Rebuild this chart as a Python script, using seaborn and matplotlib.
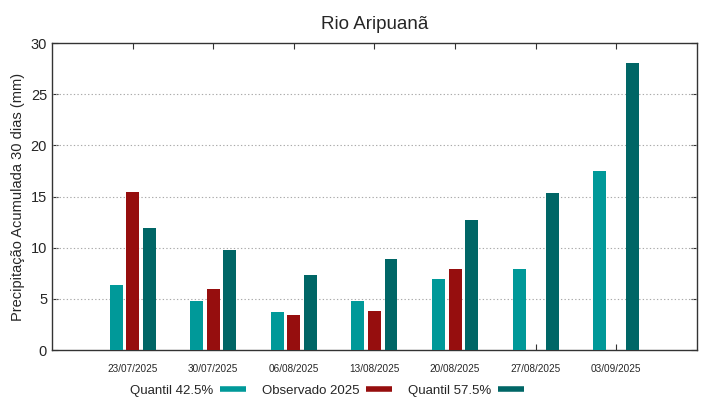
import pandas as pd
import numpy as np

import matplotlib
matplotlib.use("Agg")
import matplotlib.pyplot as plt
from matplotlib.lines import Line2D
import seaborn as sns

# valores
datas = ["23/07/2025", "30/07/2025", "06/08/2025", "13/08/2025",
         "20/08/2025", "27/08/2025", "03/09/2025"]
quantil_425 = [6.4, 4.75, 3.75, 4.75, 6.95, 7.95, 17.5]
observado = [15.4, 6.0, 3.45, 3.85, 7.9, np.nan, np.nan]
quantil_575 = [11.9, 9.75, 7.35, 8.9, 12.7, 15.35, 28.1]

series = ["Quantil 42.5%", "Observado 2025", "Quantil 57.5%"]
cores = ["#009999", "#960E0E", "#006666"]

df = pd.DataFrame({"data": datas,
                   series[0]: quantil_425,
                   series[1]: observado,
                   series[2]: quantil_575})
df = df.melt(id_vars="data", var_name="serie", value_name="chuva")

sns.set_style("white")
plt.rcParams['font.family'] = ['Liberation Sans', 'DejaVu Sans']

fig = plt.figure(figsize=(7.19, 3.99), dpi=100)
ax = fig.add_axes([0.0723, 0.1228, 0.897, 0.7692])

sns.barplot(data=df, x="data", y="chuva", hue="serie", order=datas,
            hue_order=series, palette=cores, width=0.615, gap=0.22,
            errorbar=None, linewidth=0, saturation=1, ax=ax, zorder=3)

ax.set_xlim(-1, 7)
ax.set_ylim(0, 30)
ax.set_yticks(range(0, 31, 5))
ax.set_xlabel("")
ax.set_ylabel("Precipitação Acumulada 30 dias (mm)", fontsize=10.5)
ax.set_title("Rio Aripuanã", fontsize=13.5, pad=10)

for y in range(5, 30, 5):
    ax.axhline(y, color="#aaaaaa", lw=0.8, ls=(0, (1.2, 2)), zorder=1)

ax.tick_params(axis="x", labelsize=7.2, direction="in", top=True, bottom=True,
               length=4, pad=10, color="#333333")
ax.tick_params(axis="y", labelsize=10.5, direction="in", right=True, left=True,
               length=4, color="#333333")
for s in ax.spines.values():
    s.set_color("#333333")
    s.set_linewidth(1.0)

ax.get_legend().remove()
handles = [Line2D([0], [0], color=c, lw=4.0, solid_capstyle="butt") for c in cores]
fig.legend(handles, series, loc="lower center", bbox_to_anchor=(0.455, -0.024),
           ncol=3, frameon=False, markerfirst=False, fontsize=9.5,
           handlelength=2.0, columnspacing=1.2, handletextpad=0.5)

plt.savefig("out.png", dpi=100)
